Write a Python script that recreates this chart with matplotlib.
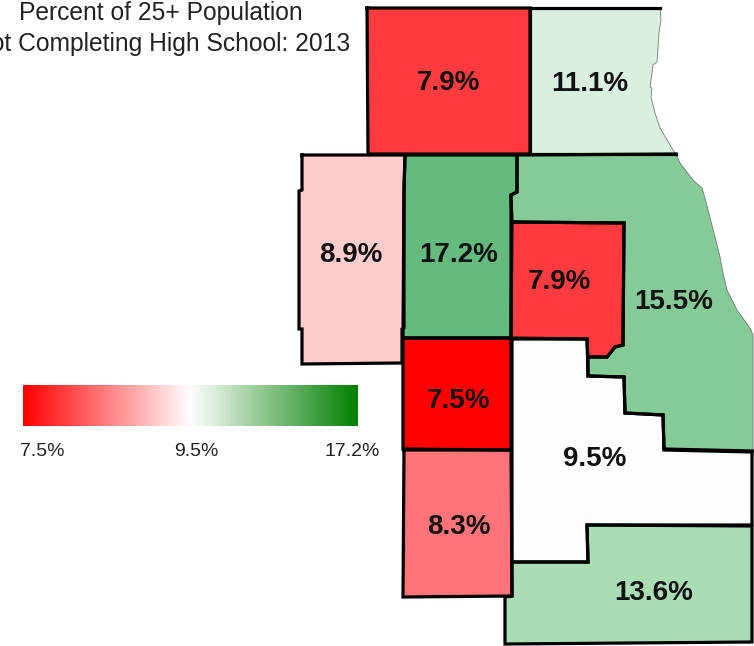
"""county map: percent of 25+ population not completing high school
"""

import numpy as np
from matplotlib import colors
from matplotlib import pyplot as plt
from matplotlib.patches import Polygon

plt.rcParams["font.family"] = ["Liberation Sans", "DejaVu Sans"]

TITLE_LINES = ["Percent of 25+ Population", "Not Completing High School: 2013"]
RAMP_LABELS = ["7.5%", "9.5%", "17.2%"]

VALUES = [7.9, 11.1, 8.9, 17.2, 7.9, 15.5, 7.5, 9.5, 8.3, 13.6]
FILLS = ["#ff3b40", "#d9efe0", "#ffcccd", "#63bc7e", "#ff3b40",
         "#85cb98", "#ff0000", "#fcfdfd", "#ff7478", "#abddb5"]
LABEL_X = [448, 590, 351, 459, 559, 674, 458, 595, 459, 654]
LABEL_Y = [83, 84, 255, 255, 282, 302, 401, 459, 527, 593]

# county outlines, traced in picture coordinates
north_west = [(367, 8), (530, 8), (530, 154), (368, 154)]
north_east = [(530, 8), (660, 8), (661, 20), (659, 33), (657, 62), (653, 65),
              (650, 87), (652, 88), (651, 97), (655, 113), (660, 128),
              (673, 150), (676, 154), (530, 154)]
far_west = [(302, 155), (302, 190), (299, 191), (299, 329), (302, 329),
            (302, 364), (402, 363), (402, 329), (404, 328), (404, 190),
            (405, 155)]
west = [(405, 155), (517, 155), (517, 192), (511, 195), (511, 338), (403, 338),
        (404, 190)]
inner = [(512, 222), (624, 223), (623, 345), (615, 347), (607, 357), (588, 357),
         (587, 339), (511, 338)]
city = [(517, 155), (676, 154), (680, 163), (693, 180), (702, 188), (705, 198),
        (715, 237), (720, 257), (723, 273), (727, 290), (737, 310), (750, 328),
        (753, 335), (753, 451), (664, 449), (663, 415), (625, 413), (624, 377),
        (588, 376), (588, 357), (607, 357), (615, 347), (623, 345), (624, 223),
        (512, 222), (511, 195), (517, 192)]
south_west = [(403, 338), (511, 338), (511, 450), (403, 449)]
south = [(512, 339), (587, 339), (588, 376), (624, 377), (625, 413), (663, 415),
         (664, 450), (752, 452), (752, 525), (587, 525), (588, 562), (512, 562)]
lower_west = [(404, 450), (511, 450), (512, 596), (403, 597)]
lower_south = [(512, 562), (588, 562), (587, 525), (752, 526), (752, 642),
               (505, 644), (505, 597), (512, 596)]
OUTLINES = [north_west, north_east, far_west, west, inner, city, south_west,
            south, lower_west, lower_south]

# black county lines; the lake shore has none
BORDERS = [
    north_west + [north_west[0]],
    north_east[:2],
    [north_east[-2], north_east[-1], north_east[0]],
    far_west + [far_west[0]],
    west + [west[0]],
    inner + [inner[0]],
    city[13:] + [city[0], city[1]],
    south_west + [south_west[0]],
    south + [south[0]],
    lower_west + [lower_west[0]],
    lower_south + [lower_south[0]],
]
# lake shore, thin and grey
SHORES = [north_east[1:13], city[1:14]]


if __name__ == "__main__":
    fig = plt.figure(figsize=(7.54, 6.46), dpi=100)
    ax = fig.add_axes([0, 0, 1, 1])

    for outline, fill in zip(OUTLINES, FILLS):
        ax.add_patch(Polygon(outline, closed=True, facecolor=fill, edgecolor="none", zorder=1))

    for border in BORDERS:
        pts = np.array(border)
        ax.plot(pts[:, 0], pts[:, 1], color="black", lw=2.3, zorder=3, solid_joinstyle="miter")

    for shore in SHORES:
        pts = np.array(shore)
        ax.plot(pts[:, 0], pts[:, 1], color="#777777", lw=0.6, zorder=2)

    for val, x, y in zip(VALUES, LABEL_X, LABEL_Y):
        ax.text(x, y, f"{val}%", fontsize=20, fontweight="bold", color="#111111",
                ha="center", va="center", zorder=4)

    # second line runs off the left side of the page, as in the source picture
    ax.text(160.5, 13, TITLE_LINES[0], fontsize=17.7, color="#222222", ha="center", va="center")
    ax.text(162, 44, TITLE_LINES[1], fontsize=17.7, color="#222222", ha="center", va="center")

    # legend ramp
    ramp = colors.LinearSegmentedColormap.from_list("ramp", ["#ff0000", "#ffffff", "#008000"])
    ax.imshow(np.linspace(0, 1, 256)[None, :], cmap=ramp, aspect="auto",
              extent=(23, 358, 426, 385), zorder=1)
    for label, x in zip(RAMP_LABELS, [42, 196, 352]):
        ax.text(x, 451, label, fontsize=14, color="#222222", ha="center", va="center")

    ax.set_xlim(0, 754)
    ax.set_ylim(646, 0)
    ax.axis("off")

    fig.savefig("out.png", dpi=100)
